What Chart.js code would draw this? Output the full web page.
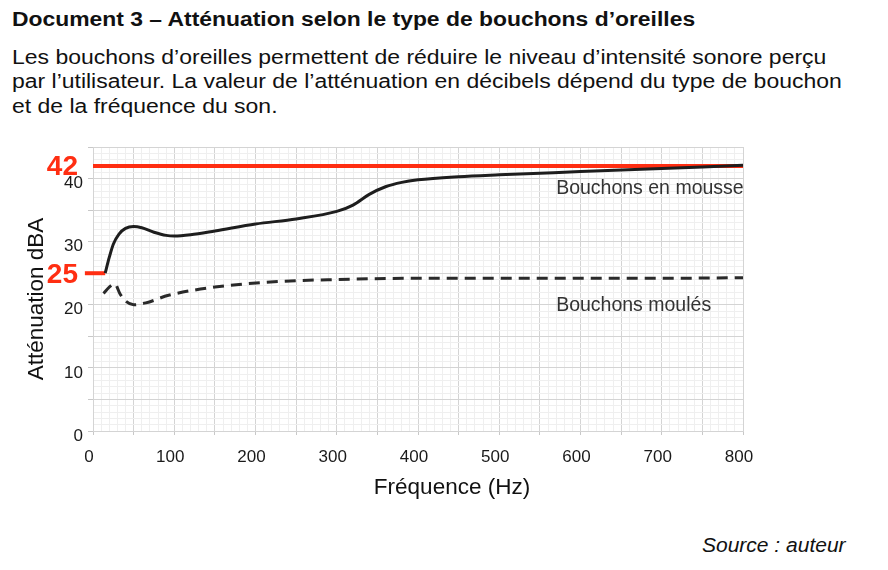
<!DOCTYPE html>
<html>
<head>
<meta charset="utf-8">
<script src="https://cdn.jsdelivr.net/npm/chart.js@4"></script>
<style>
  html, body { margin:0; padding:0; background:#fff; }
  body { width:888px; height:570px; position:relative; overflow:hidden; font-family:"Liberation Sans", Arial, sans-serif; color:#111; }
  .head { position:absolute; left:12px; top:7px; font-size:20px; font-weight:bold; line-height:24px; white-space:nowrap; transform:scaleX(1.144); transform-origin:0 0; }
  .para { position:absolute; left:12px; top:45px; font-size:20px; line-height:24.4px; white-space:nowrap; transform:scaleX(1.148); transform-origin:0 0; }
  .src { position:absolute; left:702px; top:533px; font-size:20px; font-style:italic; line-height:24px; white-space:nowrap; transform:scaleX(1.05); transform-origin:0 0; }
  #wrap { position:absolute; left:0; top:140px; width:888px; height:370px; }
</style>
</head>
<body>
<div class="head">Document 3 – Atténuation selon le type de bouchons d’oreilles</div>
<div class="para">Les bouchons d’oreilles permettent de réduire le niveau d’intensité sonore perçu<br>par l’utilisateur. La valeur de l’atténuation en décibels dépend du type de bouchon<br>et de la fréquence du son.</div>
<div class="src">Source : auteur</div>
<div id="wrap"><canvas id="c" width="888" height="370"></canvas></div>
<script>
// ---- data ----
const freqMousse = [15, 20, 25, 32, 40, 50, 60, 75, 90, 100, 120, 150, 200, 250, 300, 320, 340, 360, 380, 400, 450, 500, 600, 700, 800];
const attMousse  = [25, 27.5, 29.6, 31.2, 32.1, 32.4, 32.2, 31.5, 31.0, 30.9, 31.1, 31.7, 32.8, 33.6, 34.8, 35.8, 37.5, 38.7, 39.4, 39.8, 40.3, 40.6, 41.1, 41.6, 42.1];
const freqMoules = [13, 20, 27, 33, 40, 50, 65, 93, 150, 230, 300, 400, 500, 600, 700, 800];
const attMoules  = [21.8, 22.8, 23.3, 21.8, 20.6, 20.0, 20.3, 21.5, 22.8, 23.7, 24.0, 24.2, 24.2, 24.2, 24.2, 24.3];
const refHigh = 42;          // red reference level
const refLow = 25;           // red marker level
const refLowFreq = [-10, 15];
const xTickLabels = [0, 100, 200, 300, 400, 500, 600, 700, 800];
const yTickLabels = [0, 10, 20, 30, 40];
const labelMousse = "Bouchons en mousse";
const labelMoules = "Bouchons moulés";
const xTitle = "Fréquence (Hz)";
const yTitle = "Atténuation dBA";

const pts = (xs, ys) => xs.map((x, i) => ({x, y: ys[i]}));
const RED = '#ff2e12';
const FONT = '"Liberation Sans", Arial, sans-serif';

const textPlugin = {
  id: 'texts',
  afterDraw(chart) {
    const {ctx, scales: {x, y}} = chart;
    ctx.save();
    // red level labels
    ctx.fillStyle = RED;
    ctx.font = 'bold 28px ' + FONT;
    ctx.textAlign = 'right';
    ctx.textBaseline = 'middle';
    ctx.fillText(String(refHigh), 78, y.getPixelForValue(refHigh) + 1);
    ctx.fillText(String(refLow), 78, y.getPixelForValue(refLow) + 2);
    // series labels
    ctx.fillStyle = '#333';
    ctx.font = '19.5px ' + FONT;
    ctx.textAlign = 'left';
    ctx.textBaseline = 'alphabetic';
    ctx.fillText(labelMousse, x.getPixelForValue(570), y.getPixelForValue(37.6));
    ctx.fillText(labelMoules, x.getPixelForValue(570), y.getPixelForValue(19.0));
    // axis titles
    ctx.fillStyle = '#111';
    ctx.font = '22.5px ' + FONT;
    ctx.textAlign = 'center';
    ctx.textBaseline = 'middle';
    ctx.fillText(xTitle, 452, 348);
    ctx.translate(37, 159);
    ctx.rotate(-Math.PI / 2);
    ctx.fillText(yTitle, 0, 0);
    ctx.restore();
  }
};

const noPad = s => { s.paddingTop = 0; s.paddingBottom = 0; s.paddingLeft = 0; s.paddingRight = 0; };

new Chart(document.getElementById('c'), {
  type: 'line',
  data: {
    datasets: [
      { data: pts(freqMousse, attMousse), borderColor: '#1e1e1e', borderWidth: 3, pointRadius: 0, cubicInterpolationMode: 'monotone', order: 1 },
      { data: pts(freqMoules, attMoules), borderColor: '#2a2a2a', borderWidth: 3, borderDash: [11, 7], pointRadius: 0, cubicInterpolationMode: 'monotone', order: 1 },
      { data: pts([0, 800], [refHigh, refHigh]), borderColor: RED, borderWidth: 4, pointRadius: 0, order: 2 },
      { data: pts(refLowFreq, [refLow, refLow]), borderColor: RED, borderWidth: 4, pointRadius: 0, clip: false, order: 2 }
    ]
  },
  options: {
    responsive: false,
    devicePixelRatio: 1,
    animation: false,
    layout: { padding: { left: 0, right: 145, top: 7, bottom: 0 } },
    plugins: { legend: { display: false }, tooltip: { enabled: false } },
    scales: {
      x: {
        type: 'linear', min: 0, max: 800,
        afterFit: s => { s.height = 79; noPad(s); },
        border: { display: true, color: '#d4d4d4' },
        grid: {
          color: c => (c.tick && c.tick.value % 50 === 0) ? '#d4d4d4' : '#efefef',
          tickColor: c => (c.tick && c.tick.value % 50 === 0) ? '#c8c8c8' : 'rgba(0,0,0,0)',
          tickLength: 4
        },
        ticks: {
          stepSize: 10, autoSkip: false, maxTicksLimit: 200, maxRotation: 0,
          callback: v => xTickLabels.includes(v) ? String(v) : '',
          font: { size: 17, family: FONT }, color: '#1a1a1a', padding: 12, labelOffset: -4
        }
      },
      y: {
        min: 0, max: 45,
        afterFit: s => { s.width = 93; noPad(s); },
        border: { display: true, color: '#d4d4d4' },
        grid: {
          color: c => (c.tick && c.tick.value % 5 === 0) ? '#d4d4d4' : '#efefef',
          tickColor: c => (c.tick && c.tick.value % 5 === 0) ? '#c8c8c8' : 'rgba(0,0,0,0)',
          tickLength: 5
        },
        ticks: {
          stepSize: 1, autoSkip: false, maxTicksLimit: 200,
          callback: v => yTickLabels.includes(v) ? String(v) : '',
          font: { size: 17, family: FONT }, color: '#1a1a1a', padding: 5, labelOffset: 5
        }
      }
    }
  },
  plugins: [textPlugin]
});
</script>
</body>
</html>
